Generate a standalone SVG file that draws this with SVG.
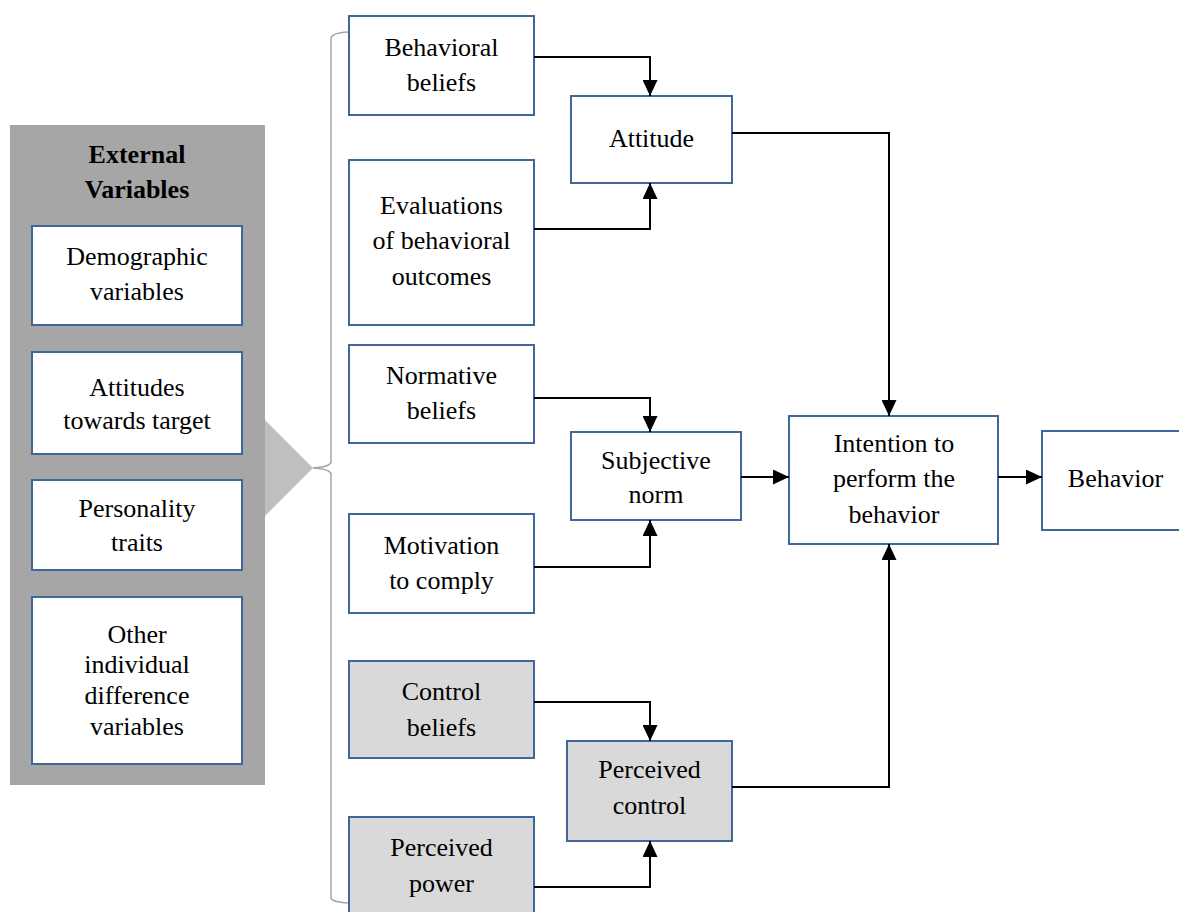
<svg xmlns="http://www.w3.org/2000/svg" width="1179" height="912" viewBox="0 0 1179 912">
<defs>
<style>
.box{fill:#ffffff;stroke:#41679a;stroke-width:2}
.gbox{fill:#d9d9d9;stroke:#41679a;stroke-width:2}
.t{font-family:"Liberation Serif","Times New Roman",serif;font-size:26px;fill:#000;text-anchor:middle}
.b{font-weight:bold}
.c{fill:none;stroke:#000;stroke-width:2}
</style>
<marker id="ah" markerUnits="userSpaceOnUse" markerWidth="16" markerHeight="15" refX="16" refY="7.5" orient="auto" viewBox="0 0 16 15">
<path d="M0,0 L16,7.5 L0,15 z" fill="#000"/>
</marker>
</defs>
<rect width="1179" height="912" fill="#ffffff"/>

<g id="external">
<rect x="10" y="125" width="255" height="660" fill="#a6a6a6"/>
<polygon points="265,420 313,468 265,516" fill="#bfbfbf"/>
<text class="t b" x="137" y="163">External</text>
<text class="t b" x="137" y="198">Variables</text>
</g>
<g id="demographic">
<rect class="box" x="32" y="226" width="210" height="99"/>
<text class="t" x="137" y="265">Demographic</text>
<text class="t" x="137" y="300">variables</text>
</g>
<g id="attitudes-target">
<rect class="box" x="32" y="352" width="210" height="102"/>
<text class="t" x="137" y="396">Attitudes</text>
<text class="t" x="137" y="429">towards target</text>
</g>
<g id="personality">
<rect class="box" x="32" y="480" width="210" height="90"/>
<text class="t" x="137" y="517">Personality</text>
<text class="t" x="137" y="551">traits</text>
</g>
<g id="other">
<rect class="box" x="32" y="597" width="210" height="167"/>
<text class="t" x="137" y="643">Other</text>
<text class="t" x="137" y="673">individual</text>
<text class="t" x="137" y="704">difference</text>
<text class="t" x="137" y="735">variables</text>
</g>

<g id="brace">
<path d="M348,32 Q332,33 331,38 L331,462 Q330,467 313,468 Q330,469 331,474 L331,898 Q332,902 348,903" fill="none" stroke="#a6a6a6" stroke-width="1.5"/>
</g>

<g id="behavioral-beliefs">
<rect class="box" x="349" y="16" width="185" height="99"/>
<text class="t" x="441.5" y="56">Behavioral</text>
<text class="t" x="441.5" y="91">beliefs</text>
</g>
<g id="evaluations">
<rect class="box" x="349" y="160" width="185" height="165"/>
<text class="t" x="441.5" y="214">Evaluations</text>
<text class="t" x="441.5" y="249">of behavioral</text>
<text class="t" x="441.5" y="285">outcomes</text>
</g>
<g id="normative-beliefs">
<rect class="box" x="349" y="345" width="185" height="98"/>
<text class="t" x="441.5" y="384">Normative</text>
<text class="t" x="441.5" y="419">beliefs</text>
</g>
<g id="motivation">
<rect class="box" x="349" y="514" width="185" height="99"/>
<text class="t" x="441.5" y="554">Motivation</text>
<text class="t" x="441.5" y="589">to comply</text>
</g>
<g id="control-beliefs">
<rect class="gbox" x="349" y="661" width="185" height="97"/>
<text class="t" x="441.5" y="700">Control</text>
<text class="t" x="441.5" y="736">beliefs</text>
</g>
<g id="perceived-power">
<rect class="gbox" x="349" y="817" width="185" height="110"/>
<text class="t" x="441.5" y="856">Perceived</text>
<text class="t" x="441.5" y="892">power</text>
</g>

<g id="attitude">
<rect class="box" x="571" y="96" width="161" height="87"/>
<text class="t" x="651.5" y="147">Attitude</text>
</g>
<g id="subjective-norm">
<rect class="box" x="571" y="432" width="170" height="88"/>
<text class="t" x="656" y="469">Subjective</text>
<text class="t" x="656" y="503">norm</text>
</g>
<g id="perceived-control">
<rect class="gbox" x="567" y="741" width="165" height="100"/>
<text class="t" x="649.5" y="778">Perceived</text>
<text class="t" x="649.5" y="814">control</text>
</g>
<g id="intention">
<rect class="box" x="789" y="416" width="209" height="128"/>
<text class="t" x="894" y="452">Intention to</text>
<text class="t" x="894" y="487">perform the</text>
<text class="t" x="894" y="523">behavior</text>
</g>
<g id="behavior">
<rect class="box" x="1042" y="431" width="160" height="99"/>
<text class="t" x="1115.5" y="487">Behavior</text>
</g>

<g id="connectors">
<path class="c" d="M534,57 H650 V96" marker-end="url(#ah)"/>
<path class="c" d="M534,229 H650 V183" marker-end="url(#ah)"/>
<path class="c" d="M732,133 H889 V416" marker-end="url(#ah)"/>
<path class="c" d="M534,398 H650 V432" marker-end="url(#ah)"/>
<path class="c" d="M534,567 H650 V520" marker-end="url(#ah)"/>
<path class="c" d="M741,477 H789" marker-end="url(#ah)"/>
<path class="c" d="M998,477 H1042" marker-end="url(#ah)"/>
<path class="c" d="M534,702 H650 V741" marker-end="url(#ah)"/>
<path class="c" d="M534,887 H650 V841" marker-end="url(#ah)"/>
<path class="c" d="M732,787 H889 V544" marker-end="url(#ah)"/>
</g>
</svg>
